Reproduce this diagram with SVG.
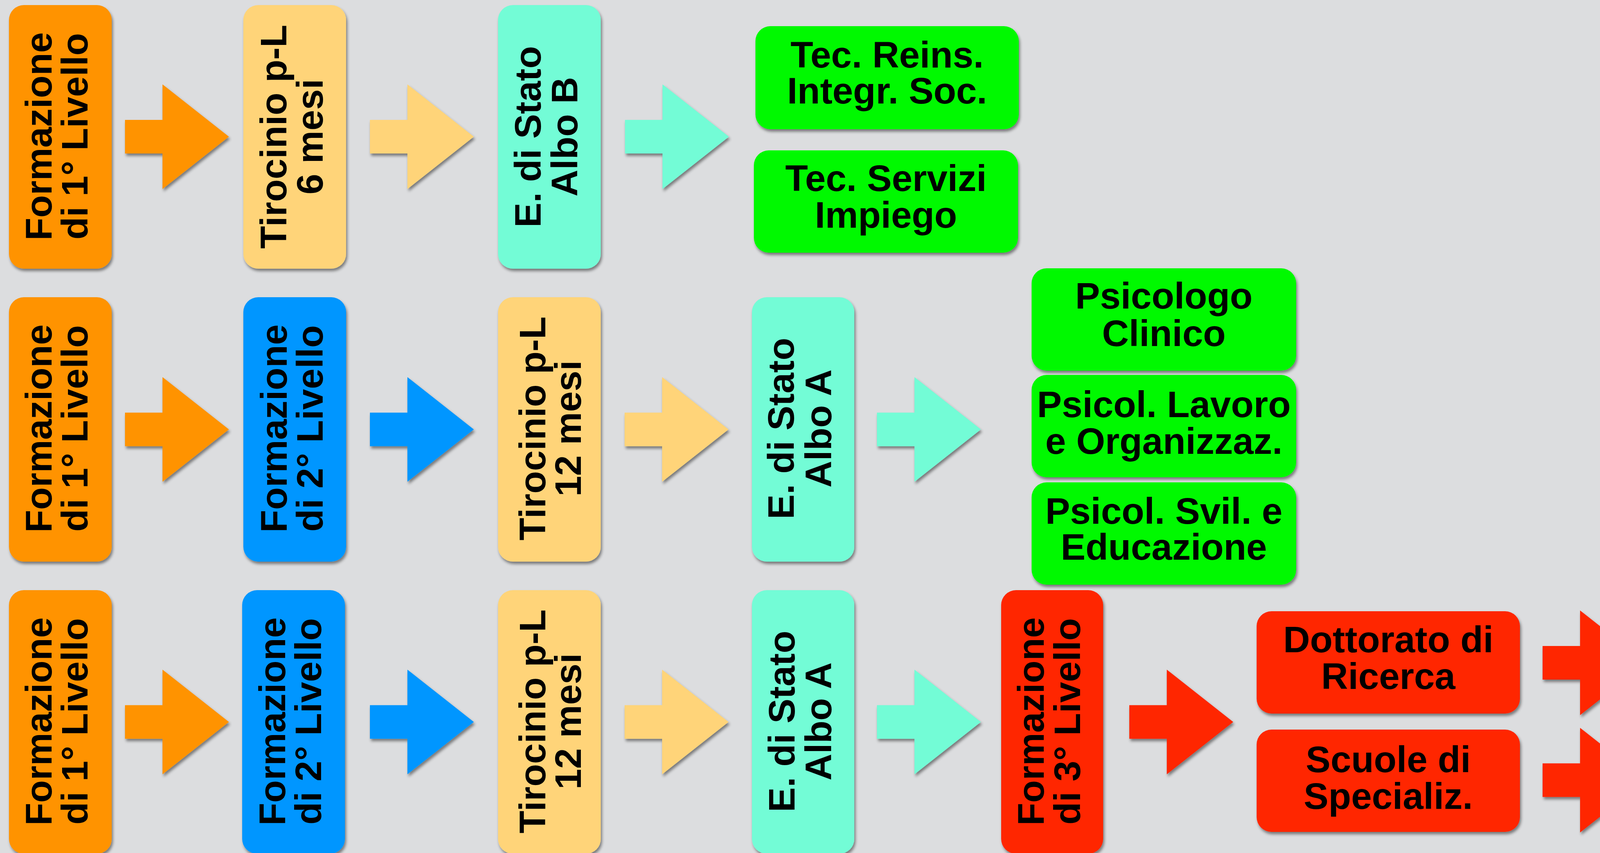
<svg xmlns="http://www.w3.org/2000/svg" xmlns:xlink="http://www.w3.org/1999/xlink" width="4952" height="2184" viewBox="0 0 4952 2184">
<style>
.t{font-family:"Liberation Sans",Arial,sans-serif;font-weight:bold;font-size:95px;fill:#000;text-anchor:middle}
.box{filter:url(#sh)}
.orange{fill:#FF9300}.yellow{fill:#FFD479}.aqua{fill:#73FCD6}.blue{fill:#0096FF}.green{fill:#00F900}.red{fill:#FF2600}
</style>
<defs>
<filter id="sh" x="-10%" y="-10%" width="130%" height="130%">
<feDropShadow dx="3" dy="6" stdDeviation="3.5" flood-color="#000" flood-opacity="0.45"/>
</filter>
<polygon id="arr" points="0,-43 96,-43 96,-134 266,0 96,134 96,43 0,43"/>
</defs>
<rect width="4952" height="2184" fill="#DCDDDF"/>
<g id="connectors" filter="url(#sh)">
<use xlink:href="#arr" class="orange" transform="translate(320,350)"/>
<use xlink:href="#arr" class="yellow" transform="translate(947,350)"/>
<use xlink:href="#arr" class="aqua" transform="translate(1600,350)"/>
<use xlink:href="#arr" class="orange" transform="translate(320,1099.5)"/>
<use xlink:href="#arr" class="blue" transform="translate(947,1099.5)"/>
<use xlink:href="#arr" class="yellow" transform="translate(1599,1099.5)"/>
<use xlink:href="#arr" class="aqua" transform="translate(2245,1099.5)"/>
<use xlink:href="#arr" class="orange" transform="translate(320,1848.5)"/>
<use xlink:href="#arr" class="blue" transform="translate(947,1848.5)"/>
<use xlink:href="#arr" class="yellow" transform="translate(1599,1848.5)"/>
<use xlink:href="#arr" class="aqua" transform="translate(2245,1848.5)"/>
<use xlink:href="#arr" class="red" transform="translate(2891,1848.5)"/>
<use xlink:href="#arr" class="red" transform="translate(3949,1697)"/>
<use xlink:href="#arr" class="red" transform="translate(3949,1997.5)"/>
</g>
<!-- Row 1 -->
<g id="n1a"><rect class="box orange" x="23" y="13" width="263" height="675" rx="38"/>
<text class="t" transform="rotate(-90)"><tspan x="-349" y="131.5">Formazione</tspan><tspan x="-349" y="224">di 1° Livello</tspan></text></g>
<g id="n1b"><rect class="box yellow" x="623" y="13" width="263" height="675" rx="38"/>
<text class="t" transform="rotate(-90)"><tspan x="-350" y="733">Tirocinio p-L</tspan><tspan x="-350" y="826">6 mesi</tspan></text></g>
<g id="n1c"><rect class="box aqua" x="1275" y="13" width="263" height="675" rx="38"/>
<text class="t" transform="rotate(-90)"><tspan x="-350" y="1384">E. di Stato</tspan><tspan x="-350" y="1478">Albo B</tspan></text></g>
<g id="n1d"><rect class="box green" x="1934" y="67" width="674" height="264" rx="38"/>
<text class="t"><tspan x="2271" y="173">Tec. Reins.</tspan><tspan x="2271" y="265">Integr. Soc.</tspan></text></g>
<g id="n1e"><rect class="box green" x="1930" y="385" width="676" height="262" rx="38"/>
<text class="t"><tspan x="2268" y="489">Tec. Servizi</tspan><tspan x="2268" y="583">Impiego</tspan></text></g>
<!-- Row 2 -->
<g id="n2a"><rect class="box orange" x="23" y="761" width="263" height="677" rx="38"/>
<text class="t" transform="rotate(-90)"><tspan x="-1097" y="131.5">Formazione</tspan><tspan x="-1097" y="224">di 1° Livello</tspan></text></g>
<g id="n2b"><rect class="box blue" x="623" y="761" width="263" height="677" rx="38"/>
<text class="t" transform="rotate(-90)"><tspan x="-1097" y="733.5">Formazione</tspan><tspan x="-1097" y="826">di 2° Livello</tspan></text></g>
<g id="n2c"><rect class="box yellow" x="1275" y="761" width="263" height="677" rx="38"/>
<text class="t" transform="rotate(-90)"><tspan x="-1097" y="1396">Tirocinio p-L</tspan><tspan x="-1097" y="1487">12 mesi</tspan></text></g>
<g id="n2d"><rect class="box aqua" x="1925" y="761" width="262" height="677" rx="38"/>
<text class="t" transform="rotate(-90)"><tspan x="-1097" y="2032">E. di Stato</tspan><tspan x="-1097" y="2127.5">Albo A</tspan></text></g>
<g id="n2e"><rect class="box green" x="2641" y="687" width="677" height="262" rx="38"/>
<text class="t"><tspan x="2979.5" y="790">Psicologo</tspan><tspan x="2979.5" y="886">Clinico</tspan></text></g>
<g id="n2f"><rect class="box green" x="2641" y="960" width="677" height="262" rx="38"/>
<text class="t"><tspan x="2979.5" y="1068">Psicol. Lavoro</tspan><tspan x="2979.5" y="1162">e Organizzaz.</tspan></text></g>
<g id="n2g"><rect class="box green" x="2641" y="1235" width="677" height="262" rx="38"/>
<text class="t"><tspan x="2979.5" y="1341">Psicol. Svil. e</tspan><tspan x="2979.5" y="1433">Educazione</tspan></text></g>
<!-- Row 3 -->
<g id="n3a"><rect class="box orange" x="23" y="1511" width="263" height="675" rx="38"/>
<text class="t" transform="rotate(-90)"><tspan x="-1847" y="131.5">Formazione</tspan><tspan x="-1847" y="224">di 1° Livello</tspan></text></g>
<g id="n3b"><rect class="box blue" x="620" y="1511" width="263" height="675" rx="38"/>
<text class="t" transform="rotate(-90)"><tspan x="-1847" y="730">Formazione</tspan><tspan x="-1847" y="822">di 2° Livello</tspan></text></g>
<g id="n3c"><rect class="box yellow" x="1275" y="1511" width="263" height="675" rx="38"/>
<text class="t" transform="rotate(-90)"><tspan x="-1847" y="1396">Tirocinio p-L</tspan><tspan x="-1847" y="1487">12 mesi</tspan></text></g>
<g id="n3d"><rect class="box aqua" x="1925" y="1511" width="262" height="675" rx="38"/>
<text class="t" transform="rotate(-90)"><tspan x="-1847" y="2034">E. di Stato</tspan><tspan x="-1847" y="2127.5">Albo A</tspan></text></g>
<g id="n3e"><rect class="box red" x="2563" y="1511" width="261" height="675" rx="38"/>
<text class="t" transform="rotate(-90)"><tspan x="-1847" y="2672">Formazione</tspan><tspan x="-1847" y="2765">di 3° Livello</tspan></text></g>
<g id="n3f"><rect class="box red" x="3217" y="1565" width="674" height="262" rx="38"/>
<text class="t"><tspan x="3554" y="1670">Dottorato di</tspan><tspan x="3554" y="1764">Ricerca</tspan></text></g>
<g id="n3g"><rect class="box red" x="3217" y="1868" width="674" height="262" rx="38"/>
<text class="t"><tspan x="3554" y="1977">Scuole di</tspan><tspan x="3554" y="2071">Specializ.</tspan></text></g>
<g id="n3h"><rect class="box green" x="4276" y="1565" width="672" height="262" rx="38"/>
<text class="t"><tspan x="4612" y="1672">Ricerca</tspan><tspan x="4612" y="1764">Università</tspan></text></g>
<g id="n3i"><rect class="box green" x="4276" y="1868" width="672" height="262" rx="38"/>
<text class="t"><tspan x="4612" y="1975">Psico-</tspan><tspan x="4612" y="2070">terapeuta</tspan></text></g>
</svg>
